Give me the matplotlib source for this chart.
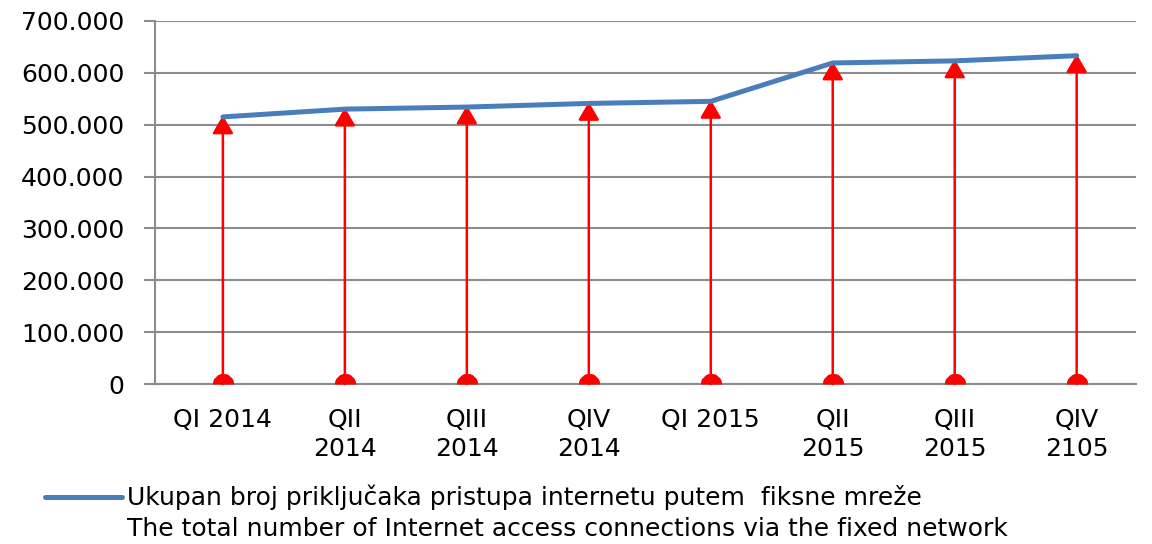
import matplotlib
matplotlib.use('Agg')
import matplotlib.pyplot as plt
from matplotlib.lines import Line2D
from matplotlib.path import Path

quarters = ['QI 2014', 'QII\n2014', 'QIII\n2014', 'QIV\n2014', 'QI 2015',
            'QII\n2015', 'QIII\n2015', 'QIV\n2105']
connections = [515000, 530000, 534000, 541000, 545000, 619000, 623000, 633000]
y_ticks = [0, 100000, 200000, 300000, 400000, 500000, 600000, 700000]
y_labels = ['0', '100.000', '200.000', '300.000', '400.000', '500.000',
            '600.000', '700.000']
legend_lines = ['Ukupan broj priključaka pristupa internetu putem  fiksne mreže',
                'The total number of Internet access connections via the fixed network']

plt.rcParams['font.family'] = ['DejaVu Sans']
FS = 18

fig = plt.figure(figsize=(11.52, 5.44), dpi=100)
ax = fig.add_axes([0.1345, 0.294, 0.852, 0.6675])

x = list(range(len(quarters)))

# red arrows from the axis up to each value
for i, v in zip(x, connections):
    ax.annotate('', xy=(i, v + 3000), xytext=(i, 0),
                arrowprops=dict(arrowstyle='-|>,head_length=0.55,head_width=0.32',
                                color='red', lw=1.8, shrinkA=0, shrinkB=0,
                                mutation_scale=20),
                zorder=3)

# half circles sitting on the x axis
arc = Path.arc(0, 180)
half_circle = Path(list(arc.vertices) + [(1, 0)], closed=True)
ax.plot(x, [0] * len(x), linestyle='none', marker=half_circle, color='red',
        markeredgewidth=0, markersize=15, zorder=4)

line, = ax.plot(x, connections, color='#4a7ebb', lw=3.6, solid_capstyle='round',
                zorder=5)

ax.set_xlim(-0.557, 7.49)
ax.set_ylim(0, 700000)
ax.set_yticks(y_ticks)
ax.set_yticklabels(y_labels, fontsize=FS)
ax.set_xticks(x)
ax.set_xticklabels(quarters, fontsize=FS, linespacing=1.3)
ax.tick_params(axis='x', length=0, pad=17)
ax.tick_params(axis='y', length=8, width=1.5, color='#8c8c8c', pad=14)

ax.grid(axis='y', color='#8c8c8c', lw=1.5)
ax.set_axisbelow(True)
for s in ['top', 'right']:
    ax.spines[s].set_visible(False)
for s in ['left', 'bottom']:
    ax.spines[s].set_color('#8c8c8c')
    ax.spines[s].set_linewidth(1.5)

blank = Line2D([], [], color='none')
fig.legend(handles=[line, blank], labels=legend_lines, loc='lower left',
           bbox_to_anchor=(0.03, -0.012), frameon=False, fontsize=FS,
           handlelength=3.1, handletextpad=0.2, labelspacing=0.25,
           borderaxespad=0)

fig.savefig('out.png', dpi=100)
